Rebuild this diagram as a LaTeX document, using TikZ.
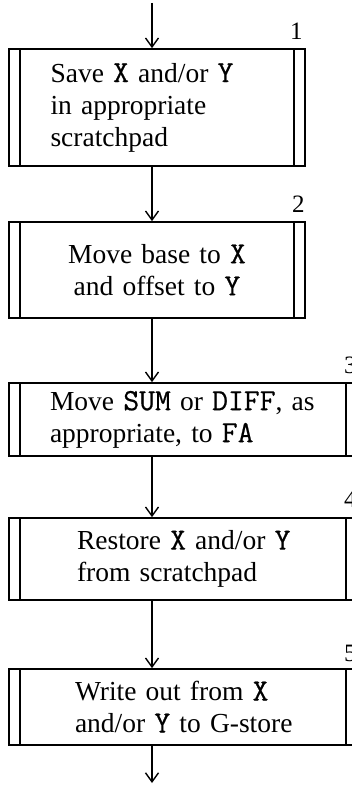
\documentclass[tikz,border=0pt]{standalone}
\usepackage{fontspec}
\setmainfont{Liberation Serif}
\setmonofont{Latin Modern Mono}[Scale=1.12, FakeBold=0.6]
\usetikzlibrary{arrows.meta}
\tikzset{
  proc/.style={draw, line width=1.7pt, inner sep=0pt, minimum height=#1,
    font=\fontsize{27.5}{32}\selectfont,
    path picture={\draw[line width=1.7pt]
      ([xshift=11pt]path picture bounding box.north west) -- ([xshift=11pt]path picture bounding box.south west)
      ([xshift=-11pt]path picture bounding box.north east) -- ([xshift=-11pt]path picture bounding box.south east);}},
  narrow/.style={minimum width=296pt},
  wide/.style={minimum width=348pt},
  flow/.style={line width=1.4pt, -{Straight Barb[length=9pt,width=13pt]}},
  num/.style={font=\fontsize{25}{28}\selectfont, anchor=base east, inner sep=0pt}
}
\begin{document}
\begin{tikzpicture}[x=1pt,y=-1pt]
\useasboundingbox (0,0) rectangle (352,791);
\clip (0,0) rectangle (352,791);
\coordinate (in) at (152,3);
\coordinate (out) at (152,783);
% boxes
\node[proc=117pt, narrow, text width=213pt, align=left] (b1) at (157,107.5) {\mbox{Save \texttt{X} and/or \texttt{Y}}\\ \mbox{in appropriate}\\ \mbox{scratchpad}};
\node[proc=96pt, narrow, text width=250pt, align=center] (b2) at (157,270) {\mbox{Move base to \texttt{X}}\\ \mbox{and offset to \texttt{Y}}};
\node[proc=73pt, wide, text width=266pt, align=left] (b3) at (183,419.5) {\mbox{Move \texttt{SUM} or \texttt{DIFF}, as}\\ \mbox{appropriate, to \texttt{FA}}};
\node[proc=82pt, wide, text width=212pt, align=left] (b4) at (183,559) {\mbox{Restore \texttt{X} and/or \texttt{Y}}\\ \mbox{from scratchpad}};
\node[proc=76pt, wide, text width=216pt, align=left] (b5) at (183,707) {\mbox{Write out from \texttt{X}}\\ \mbox{and/or \texttt{Y} to G-store}};
% numbers
\node[num] (n1) at ([xshift=-3pt,yshift=9pt]b1.north east) {1};
\node[num] (n2) at ([xshift=-1pt,yshift=9pt]b2.north east) {2};
\node[num] (n3) at ([xshift=-1pt,yshift=9pt]b3.north east) {3};
\node[num] (n4) at ([xshift=-1pt,yshift=10pt]b4.north east) {4};
\node[num] (n5) at ([xshift=-1pt,yshift=7pt]b5.north east) {5};
% arrows
\draw[flow] (in) -- (in |- b1.north);
\draw[flow] (in |- b1.south) -- (in |- b2.north);
\draw[flow] (in |- b2.south) -- (in |- b3.north);
\draw[flow] (in |- b3.south) -- (in |- b4.north);
\draw[flow] (in |- b4.south) -- (in |- b5.north);
\draw[flow] (in |- b5.south) -- (out);
\end{tikzpicture}
\end{document}
